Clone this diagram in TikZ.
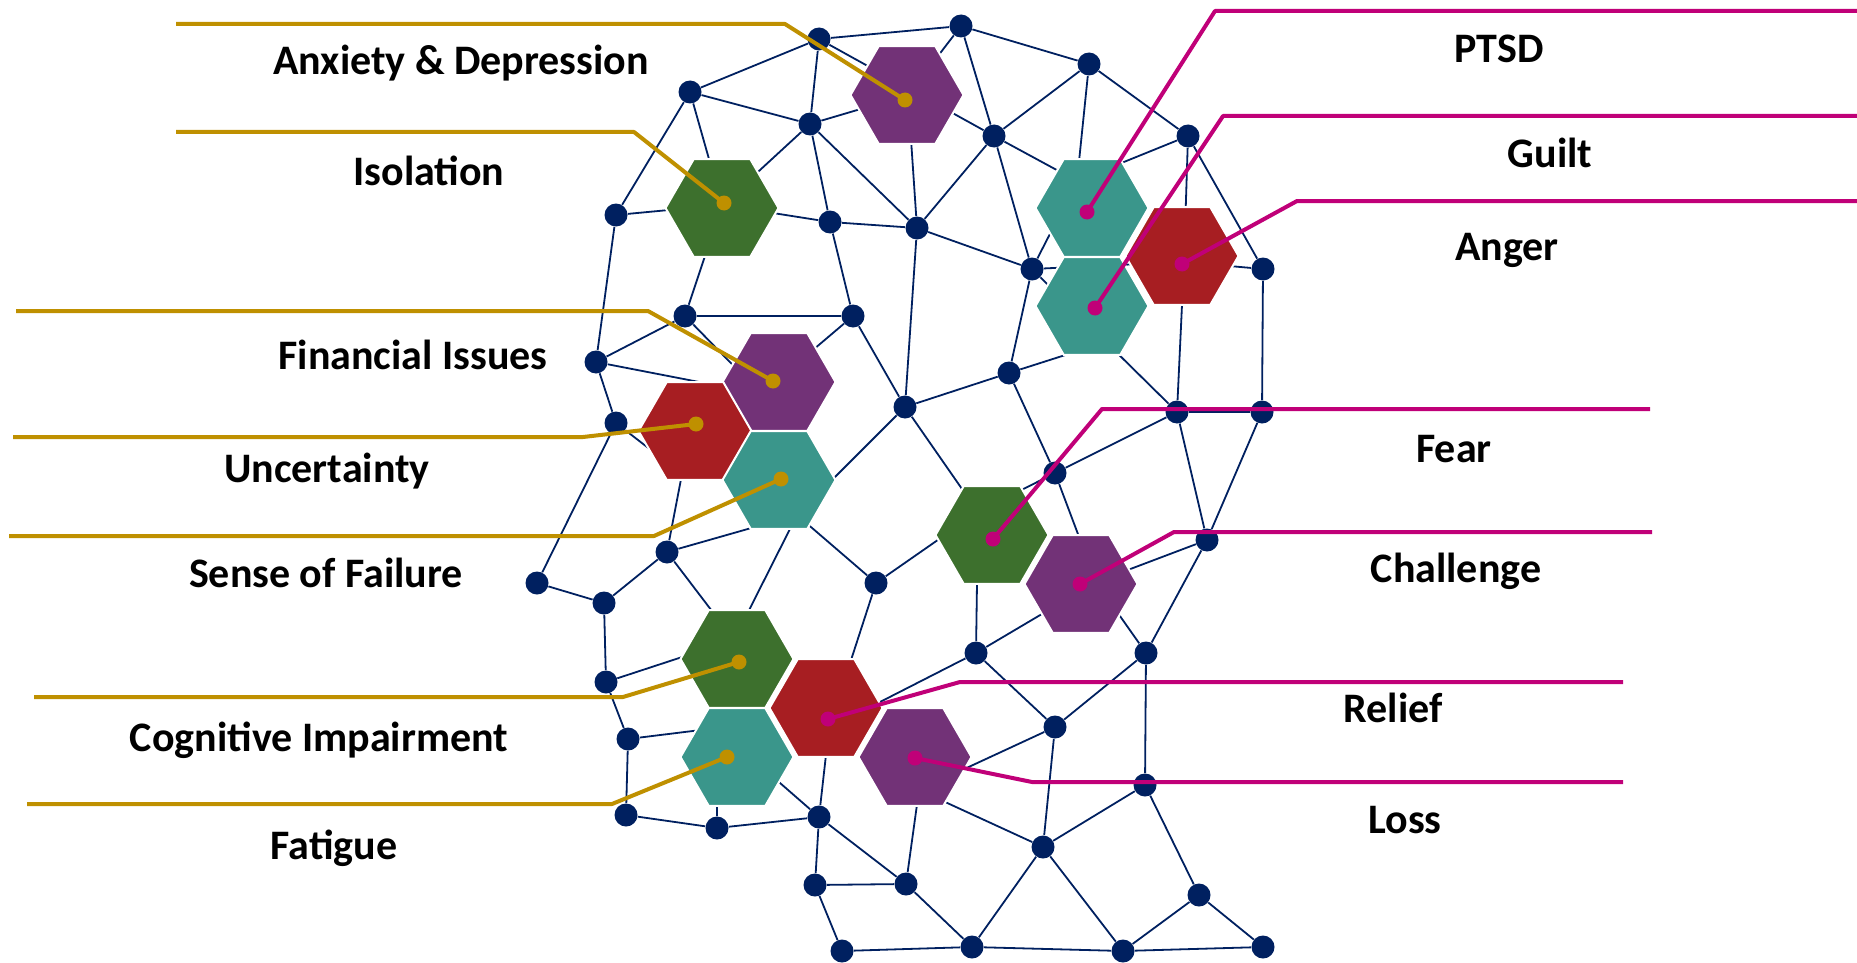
\documentclass[tikz,border=0pt]{standalone}
\usepackage{fontspec}
\setmainfont{Carlito}
\usetikzlibrary{shapes.geometric,backgrounds}
\definecolor{navy}{HTML}{002060}
\definecolor{hpurple}{HTML}{723277}
\definecolor{hgreen}{HTML}{3D702D}
\definecolor{hteal}{HTML}{3A968B}
\definecolor{hred}{HTML}{A71E22}
\definecolor{gold}{HTML}{BF9000}
\definecolor{mag}{HTML}{C00078}
\tikzset{
  nd/.style={circle,fill=navy,inner sep=0pt,minimum size=11.5pt},
  hexs/.style={regular polygon,regular polygon sides=6,minimum size=56.5pt,inner sep=0pt,draw=white,line width=1pt},
  ed/.style={draw=navy,line width=0.9pt},
  cdot/.style={circle,inner sep=0pt,minimum size=7.5pt},
  gdot/.style={cdot,fill=gold},
  mdot/.style={cdot,fill=mag},
  gl/.style={draw=gold,line width=2pt,line join=round},
  ml/.style={draw=mag,line width=2pt,line join=round},
  lbl/.style={font=\bfseries\fontsize{21pt}{25pt}\selectfont,inner sep=0pt,anchor=base}
}
\begin{document}
\begin{tikzpicture}[x=0.5pt,y=-0.5pt]
\useasboundingbox (0,0) rectangle (1857,963);
% hidden junctions under hexagons
\coordinate (hA) at (908,95);
\coordinate (hI) at (722,205);
\coordinate (hP) at (1077,181);
\coordinate (hG) at (1106,342);
\coordinate (hAg) at (1184,262);
\coordinate (hFi) at (761,394);
\coordinate (hU) at (682,474);
\coordinate (hFa) at (797,515);
\coordinate (hFe) at (978,512);
\coordinate (hCh) at (1096,582);
\coordinate (hCo) at (734,640);
\coordinate (hR) at (829,728);
\coordinate (hFt) at (717,728);
\coordinate (hL) at (919,790);
% network dots
\node[nd] (n1) at (819,39) {};
\node[nd] (n2) at (961,26) {};
\node[nd] (n3) at (1089,64) {};
\node[nd] (n4) at (690,92) {};
\node[nd] (n5) at (810,124) {};
\node[nd] (n6) at (994,136) {};
\node[nd] (n7) at (1188,136) {};
\node[nd] (n8) at (616,215) {};
\node[nd] (n9) at (830,222) {};
\node[nd] (n10) at (917,228) {};
\node[nd] (n11) at (1032,269) {};
\node[nd] (n12) at (1263,269) {};
\node[nd] (n13) at (685,316) {};
\node[nd] (n14) at (853,316) {};
\node[nd] (n15) at (596,362) {};
\node[nd] (n16) at (616,423) {};
\node[nd] (n17) at (905,407) {};
\node[nd] (n18) at (1009,373) {};
\node[nd] (n19) at (1177,412) {};
\node[nd] (n20) at (1262,412) {};
\node[nd] (n21) at (1055,473) {};
\node[nd] (n22) at (667,552) {};
\node[nd] (n23) at (1207,540) {};
\node[nd] (n24) at (537,583) {};
\node[nd] (n25) at (604,603) {};
\node[nd] (n26) at (876,583) {};
\node[nd] (n27) at (976,653) {};
\node[nd] (n28) at (1146,653) {};
\node[nd] (n29) at (606,682) {};
\node[nd] (n30) at (628,739) {};
\node[nd] (n31) at (1055,727) {};
\node[nd] (n32) at (1145,785) {};
\node[nd] (n33) at (626,815) {};
\node[nd] (n34) at (717,828) {};
\node[nd] (n35) at (819,817) {};
\node[nd] (n36) at (1043,847) {};
\node[nd] (n37) at (815,885) {};
\node[nd] (n38) at (906,884) {};
\node[nd] (n39) at (1199,895) {};
\node[nd] (n40) at (842,951) {};
\node[nd] (n41) at (972,947) {};
\node[nd] (n42) at (1123,951) {};
\node[nd] (n43) at (1263,947) {};
% hexagons
\node[hexs,fill=hpurple] (xA) at (907,95) {};
\node[hexs,fill=hgreen] (xI) at (722,208) {};
\node[hexs,fill=hteal] (xP) at (1092,208) {};
\node[hexs,fill=hteal] (xG) at (1092,306) {};
\node[hexs,fill=hred] (xAg) at (1182,256) {};
\node[hexs,fill=hpurple] (xFi) at (779,382) {};
\node[hexs,fill=hred] (xU) at (695,431) {};
\node[hexs,fill=hteal] (xFa) at (779,480) {};
\node[hexs,fill=hgreen] (xFe) at (992,535) {};
\node[hexs,fill=hpurple] (xCh) at (1081,584) {};
\node[hexs,fill=hgreen] (xCo) at (737,659) {};
\node[hexs,fill=hred] (xR) at (826,708) {};
\node[hexs,fill=hteal] (xFt) at (737,757) {};
\node[hexs,fill=hpurple] (xL) at (915,757) {};
% edges (behind)
\begin{pgfonlayer}{background}
\path[ed] (n1)--(n2) (n1)--(n4) (n1)--(n5) (n1)--(n6)
 (n2)--(n3) (n2)--(n6) (n2)--(hA)
 (n3)--(n6) (n3)--(n7) (n3)--(hP)
 (n4)--(n5) (n4)--(n8) (n4)--(hI)
 (n5)--(hI) (n5)--(hA) (n5)--(n9) (n5)--(n10)
 (n6)--(n10) (n6)--(n11) (n6)--(hP)
 (n7)--(hP) (n7)--(hAg) (n7)--(n12)
 (n8)--(hI) (n8)--(n15)
 (hI)--(n9) (hI)--(n13)
 (n9)--(n10) (n9)--(n14)
 (n10)--(hA) (n10)--(n11) (n10)--(n17)
 (n11)--(hP) (n11)--(hG) (n11)--(hAg) (n11)--(n18)
 (n12)--(hAg) (n12)--(n20)
 (n13)--(n14) (n13)--(n15) (n13)--(hFi)
 (n14)--(hFi) (n14)--(n17)
 (n15)--(hFi) (n15)--(n16)
 (n16)--(hU) (n16)--(n24)
 (n17)--(hFa) (n17)--(n18) (n17)--(hFe)
 (n18)--(hG) (n18)--(n21)
 (n19)--(hAg) (n19)--(hG) (n19)--(n21) (n19)--(n20) (n19)--(n23)
 (n20)--(n23)
 (n21)--(hFe) (n21)--(hCh)
 (n23)--(hCh) (n23)--(n28)
 (hU)--(n22)
 (n22)--(hFa) (n22)--(n25) (n22)--(hCo)
 (hFa)--(hCo) (hFa)--(n26)
 (n26)--(hFe) (n26)--(hR)
 (n24)--(n25) (n25)--(n29)
 (hFe)--(n27)
 (hCh)--(n27) (hCh)--(n28)
 (n27)--(hR) (n27)--(n31)
 (n28)--(n31) (n28)--(n32)
 (n31)--(hL) (n31)--(n36)
 (n32)--(n36) (n32)--(n39)
 (hL)--(n36) (hL)--(n38)
 (n38)--(n41) (n36)--(n41) (n36)--(n42) (n39)--(n42) (n39)--(n43)
 (n41)--(n42) (n42)--(n43) (n40)--(n41)
 (n29)--(hCo) (n29)--(n30) (n30)--(hFt) (n30)--(n33)
 (n33)--(n34) (n34)--(hFt) (n34)--(n35) (n35)--(hR) (hFt)--(n35)
 (n35)--(n37) (n35)--(n38) (n37)--(n38) (n37)--(n40) (n38)--(hL);
\end{pgfonlayer}
% callout dots
\node[gdot] (dA) at (905,100) {};
\node[gdot] (dI) at (724,203) {};
\node[gdot] (dFi) at (773,381) {};
\node[gdot] (dU) at (696,424) {};
\node[gdot] (dFa) at (781,479) {};
\node[gdot] (dCo) at (739,662) {};
\node[gdot] (dFt) at (727,757) {};
\node[mdot] (dP) at (1087,212) {};
\node[mdot] (dG) at (1095,308) {};
\node[mdot] (dAg) at (1182,264) {};
\node[mdot] (dFe) at (993,539) {};
\node[mdot] (dCh) at (1080,584) {};
\node[mdot] (dR) at (828,719) {};
\node[mdot] (dL) at (915,758) {};
% callout line ends and bends
\coordinate (eA) at (176,24);   \coordinate (bA) at (785,24);
\coordinate (eI) at (176,132);  \coordinate (bI) at (634,132);
\coordinate (eFi) at (16,311);  \coordinate (bFi) at (648,311);
\coordinate (eU) at (13,437);   \coordinate (bU) at (583,437);
\coordinate (eFa) at (9,536);   \coordinate (bFa) at (654,536);
\coordinate (eCo) at (34,697);  \coordinate (bCo) at (623,697);
\coordinate (eFt) at (27,804);  \coordinate (bFt) at (612,804);
\coordinate (eP) at (1857,11);  \coordinate (bP) at (1215,11);
\coordinate (eG) at (1857,116); \coordinate (bG) at (1223,116);
\coordinate (eAg) at (1857,201);\coordinate (bAg) at (1297,201);
\coordinate (eFe) at (1650,409);\coordinate (bFe) at (1102,409);
\coordinate (eCh) at (1652,532);\coordinate (bCh) at (1174,532);
\coordinate (eR) at (1623,682); \coordinate (bR) at (960,682);
\coordinate (eL) at (1623,782); \coordinate (bL) at (1032,782);
\path[gl] (eA)--(bA)--(dA.center);
\path[gl] (eI)--(bI)--(dI.center);
\path[gl] (eFi)--(bFi)--(dFi.center);
\path[gl] (eU)--(bU)--(dU.center);
\path[gl] (eFa)--(bFa)--(dFa.center);
\path[gl] (eCo)--(bCo)--(dCo.center);
\path[gl] (eFt)--(bFt)--(dFt.center);
\path[ml] (eP)--(bP)--(dP.center);
\path[ml] (eG)--(bG)--(dG.center);
\path[ml] (eAg)--(bAg)--(dAg.center);
\path[ml] (eFe)--(bFe)--(dFe.center);
\path[ml] (eCh)--(bCh)--(dCh.center);
\path[ml] (eR)--(bR)--(dR.center);
\path[ml] (eL)--(bL)--(dL.center);
% labels
\node[lbl] (tA) at (461,75) {Anxiety \& Depression};
\node[lbl] (tI) at (429,185) {Isolation};
\node[lbl] (tFi) at (413,369) {Financial Issues};
\node[lbl] (tU) at (327,482) {Uncertainty};
\node[lbl] (tFa) at (326,587) {Sense of Failure};
\node[lbl] (tCo) at (319,751) {Cognitive Impairment};
\node[lbl] (tFt) at (334,859) {Fatigue};
\node[lbl] (tP) at (1499,63) {PTSD};
\node[lbl] (tG) at (1550,167) {Guilt};
\node[lbl] (tAg) at (1507,260) {Anger};
\node[lbl] (tFe) at (1454,462) {Fear};
\node[lbl] (tCh) at (1456,582) {Challenge};
\node[lbl] (tR) at (1393,722) {Relief};
\node[lbl] (tL) at (1405,833) {Loss};
\end{tikzpicture}
\end{document}
